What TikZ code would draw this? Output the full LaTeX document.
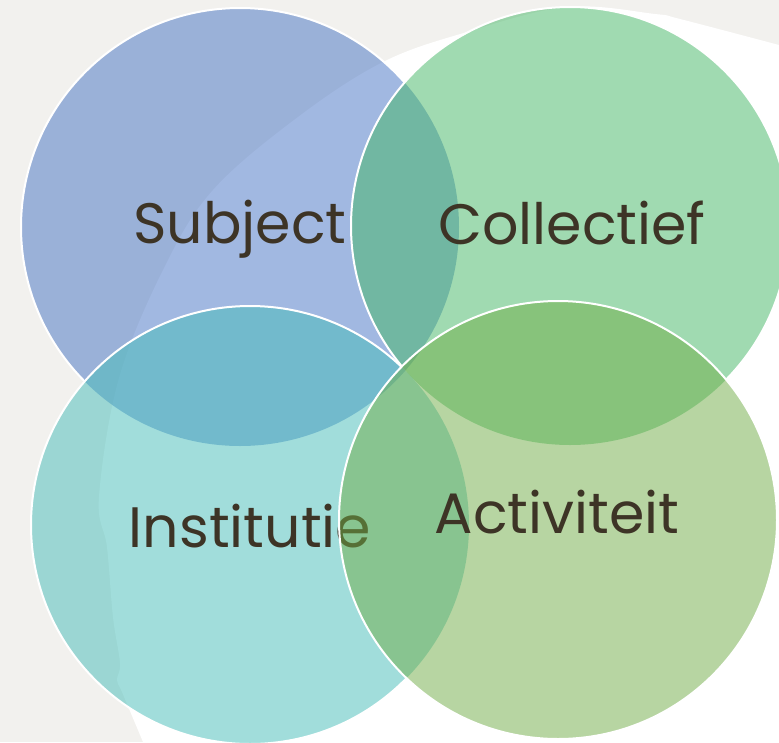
\documentclass[tikz,border=0pt]{standalone}
\usepackage{fontspec}
\setmainfont{Poppins}
\definecolor{bggrey}{HTML}{F2F1EE}
\definecolor{subjcol}{HTML}{4472C4}
\definecolor{collcol}{HTML}{43B765}
\definecolor{instcol}{HTML}{45BDB9}
\definecolor{actcol}{HTML}{70AD47}
\definecolor{txtcol}{HTML}{3D3426}
\tikzset{
  disc/.style={circle, minimum size=438pt, inner sep=0pt, draw=none, fill opacity=0.5},
  lbl/.style={anchor=base, inner sep=0pt, text=txtcol, font=\fontsize{57}{60}\selectfont},
  rim/.style={draw=white, line width=2pt}
}
\begin{document}
\begin{tikzpicture}[x=1pt, y=-1pt]
\useasboundingbox (0,0) rectangle (779,742);
\fill[bggrey] (0,0) rectangle (779,742);
% white paper behind
\fill[white] plot[smooth, tension=0.6] coordinates {(779,45) (680,19) (655,14) (567,7) (467,32) (383,62) (298,117) (213,190) (164,268) (119,378) (99,497) (107,547) (113,617) (120,663) (117,680) (122,692) (143,742)} -- (779,742) -- cycle;
\coordinate (cS) at (240,227);
\coordinate (cC) at (570,226);
\coordinate (cI) at (250,525);
\coordinate (cA) at (558,520);
\node[disc, fill=subjcol] (subject) at (cS) {};
\node[lbl] (tsubject) at (240,243) {Subject};
\node[disc, fill=collcol] (collectief) at (cC) {};
\node[lbl] (tcollectief) at (572,244) {Collectief};
\node[disc, fill=instcol] (institutie) at (cI) {};
\node[lbl] (tinstitutie) at (250,547) {Institutie};
\node[disc, fill=actcol] (activiteit) at (cA) {};
\node[lbl] (tactiviteit) at (557,533) {Activiteit};
% rims
\begin{scope}[even odd rule]
  \clip (-10,-10) rectangle (790,760) (cC) circle (219);
  \begin{scope}[even odd rule]
    \clip (-10,-10) rectangle (790,760) (cI) circle (219);
    \begin{scope}[even odd rule]
      \clip (-10,-10) rectangle (790,760) (cA) circle (219);
      \draw[rim] (subject.center) circle (219);
    \end{scope}
  \end{scope}
\end{scope}
\begin{scope}[even odd rule]
  \clip (-10,-10) rectangle (790,760) (cA) circle (219);
  \draw[rim] (collectief.center) circle (219);
  \draw[rim] (institutie.center) circle (219);
\end{scope}
\draw[rim] (activiteit.center) circle (219);
\end{tikzpicture}
\end{document}
